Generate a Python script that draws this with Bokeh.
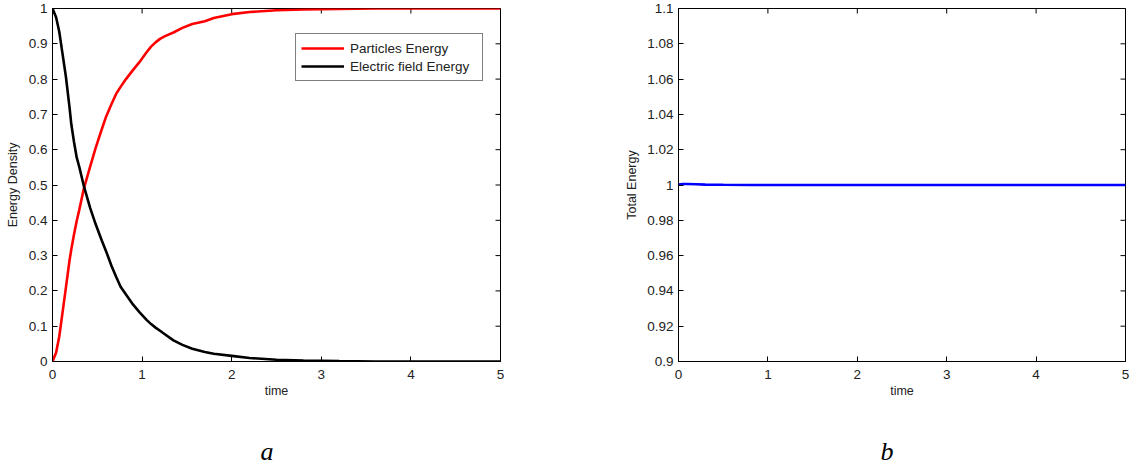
import math
from bokeh.plotting import figure
from bokeh.models import Range1d, FixedTicker, Legend, LegendItem, Title
from bokeh.layouts import row
from bokeh.embed import file_html
from bokeh.resources import INLINE

# ---------------- data ----------------
time_pts = [0, 0.04, 0.075, 0.11, 0.15, 0.19, 0.21, 0.24, 0.27, 0.3, 0.35, 0.42, 0.48, 0.55,
            0.6, 0.66, 0.71, 0.76, 0.82, 0.9, 0.97, 1.05, 1.1, 1.15, 1.2, 1.25, 1.35, 1.45,
            1.56, 1.7, 1.8, 2.0, 2.2, 2.5, 2.8, 3.2, 3.6, 4.0, 4.5, 5.0]
particles_energy = [0, 0.025, 0.07, 0.135, 0.21, 0.286, 0.318, 0.36, 0.398, 0.431, 0.49, 0.552,
                    0.604, 0.658, 0.695, 0.73, 0.758, 0.778, 0.80, 0.826, 0.848, 0.876, 0.892,
                    0.904, 0.914, 0.921, 0.932, 0.945, 0.956, 0.964, 0.973, 0.984, 0.99,
                    0.995, 0.997, 0.999, 1.0, 1.0, 1.0, 1.0]
field_energy = [1.0, 0.975, 0.935, 0.875, 0.806, 0.72, 0.672, 0.622, 0.578, 0.55, 0.497, 0.435,
                0.39, 0.343, 0.311, 0.27, 0.24, 0.212, 0.19, 0.161, 0.14, 0.118, 0.106,
                0.096, 0.087, 0.078, 0.06, 0.047, 0.036, 0.027, 0.022, 0.016, 0.01, 0.005,
                0.003, 0.001, 0.0, 0.0, 0.0, 0.0]

time_total = [0, 0.05, 0.1, 0.2, 0.3, 0.5, 0.8, 1.0, 1.5, 2.0, 2.5, 3.0, 3.5, 4.0, 4.5, 5.0]
total_energy = [1.0003, 1.0006, 1.0006, 1.0004, 1.0002, 1.0001, 1.0, 1.0, 1.0, 1.0, 1.0,
                1.0, 1.0, 1.0, 1.0, 1.0]

x_ticks = [0, 1, 2, 3, 4, 5]
x_tick_labels = ["0", "1", "2", "3", "4", "5"]
y_ticks_a = [0, 0.1, 0.2, 0.3, 0.4, 0.5, 0.6, 0.7, 0.8, 0.9, 1]
y_tick_labels_a = ["0", "0.1", "0.2", "0.3", "0.4", "0.5", "0.6", "0.7", "0.8", "0.9", "1"]
y_ticks_b = [0.9, 0.92, 0.94, 0.96, 0.98, 1, 1.02, 1.04, 1.06, 1.08, 1.1]
y_tick_labels_b = ["0.9", "0.92", "0.94", "0.96", "0.98", "1", "1.02", "1.04", "1.06", "1.08", "1.1"]

x_limits = (0, 5)
y_limits_a = (0, 1)
y_limits_b = (0.9, 1.1)

series_names = ["Particles Energy", "Electric field Energy"]
panel_labels = ["a", "b"]

FONT = "Liberation Sans"
TXT = "#222222"
TICK_SIZE = "13.5px"
LABEL_SIZE = "12.5px"
H = 466


def style_axis(ax, ticks, labels):
    ax.ticker = FixedTicker(ticks=ticks)
    ax.major_tick_in = 5
    ax.major_tick_out = 0
    ax.minor_tick_line_color = None
    ax.axis_line_color = "black"
    ax.axis_line_width = 1
    ax.major_tick_line_color = "black"
    ax.major_tick_line_width = 1
    ax.major_label_overrides = dict(zip(ticks, labels))
    ax.major_label_text_font = FONT
    ax.major_label_text_font_size = TICK_SIZE
    ax.major_label_text_color = TXT
    ax.axis_label_text_font = FONT
    ax.axis_label_text_font_size = LABEL_SIZE
    ax.axis_label_text_font_style = "normal"
    ax.axis_label_text_color = TXT


def make_fig(width, yr, yticks, ylabels, ylabel, min_left, min_right, ylab_standoff,
             panel_label, label_offset):
    p = figure(width=width, height=H, output_backend="svg", toolbar_location=None,
               x_range=Range1d(*x_limits), y_range=Range1d(*yr),
               min_border_left=min_left, min_border_right=min_right,
               min_border_top=8, min_border_bottom=105)
    p.grid.visible = False
    p.outline_line_color = "black"
    p.outline_line_width = 1
    p.background_fill_color = "white"
    p.border_fill_color = "white"
    style_axis(p.xaxis[0], x_ticks, x_tick_labels)
    style_axis(p.yaxis[0], yticks, ylabels)
    p.xaxis[0].axis_label = "time"
    p.xaxis[0].major_label_standoff = 8
    p.xaxis[0].axis_label_standoff = 2
    p.yaxis[0].axis_label = ylabel
    p.yaxis[0].major_label_standoff = 5
    p.yaxis[0].axis_label_standoff = ylab_standoff
    # inward ticks on the top and right edges (half of each dash is clipped by the frame)
    p.scatter(x_ticks, [yr[1]] * len(x_ticks), marker="dash", size=10, angle=math.pi / 2,
              line_color="black", line_width=1)
    p.scatter([x_limits[1]] * len(yticks), yticks, marker="dash", size=10,
              line_color="black", line_width=1)
    # panel letter; the leading empty line pushes it further below the axis
    t = Title(text="\n" + panel_label, align="left", offset=label_offset, standoff=0,
              text_font="Liberation Serif", text_font_style="italic",
              text_font_size="26px", text_color="black", text_line_height=1.2)
    p.add_layout(t, "below")
    return p


# ---------------- panel a ----------------
p1 = make_fig(560, y_limits_a, y_ticks_a, y_tick_labels_a, "Energy Density", 52, 60, 6,
              panel_labels[0], 208)
r_red = p1.line(time_pts, particles_energy, line_color="#ff0000", line_width=2.6)
r_blk = p1.line(time_pts, field_energy, line_color="black", line_width=2.6)
legend = Legend(items=[LegendItem(label=series_names[0], renderers=[r_red]),
                       LegendItem(label=series_names[1], renderers=[r_blk])],
                location=(243, 280), margin=0, padding=5, spacing=0,
                glyph_width=43, glyph_height=18, label_height=18, label_width=127,
                label_standoff=6, label_text_font=FONT, label_text_font_size=TICK_SIZE,
                label_text_color=TXT, border_line_color="black", border_line_width=1,
                background_fill_color="white", background_fill_alpha=1)
p1.add_layout(legend)

# ---------------- panel b ----------------
p2 = make_fig(574, y_limits_b, y_ticks_b, y_tick_labels_b, "Total Energy", 118, 9, 5,
              panel_labels[1], 202)
p2.line(time_total, total_energy, line_color="#0000ff", line_width=2.6)

layout = row(p1, p2)
open("out.html", "w").write(file_html(layout, INLINE))
